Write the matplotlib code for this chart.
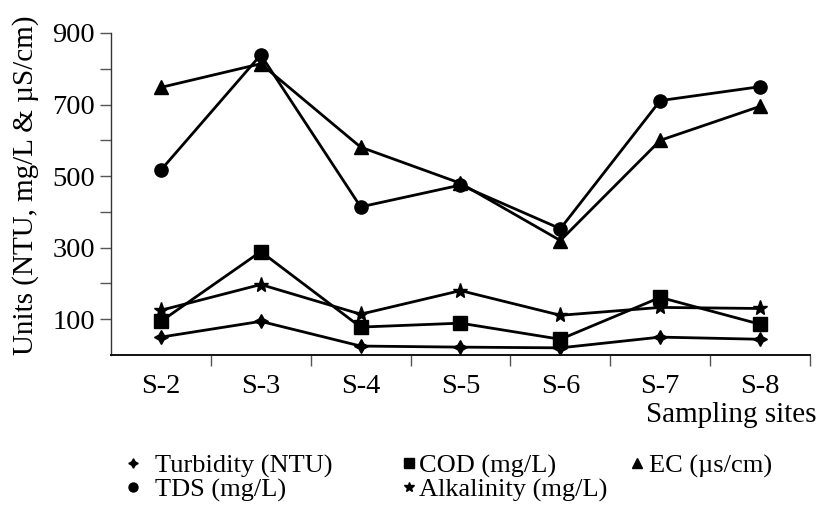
import matplotlib
matplotlib.use("Agg")
import matplotlib.pyplot as plt
from matplotlib.lines import Line2D

sites = ["S-2", "S-3", "S-4", "S-5", "S-6", "S-7", "S-8"]
turbidity = [50, 94, 25, 22, 20, 50, 44]
cod = [94, 289, 78, 89, 44, 161, 86]
ec = [748, 814, 581, 480, 320, 600, 695]
tds = [517, 839, 414, 475, 353, 711, 750]
alkalinity = [125, 197, 114, 180, 111, 133, 130]

plt.rcParams['font.family'] = ['Liberation Serif', 'DejaVu Serif']

W, H = 819, 507
fig = plt.figure(figsize=(W / 100, H / 100), dpi=100)
ax = fig.add_axes([111 / W, 1 - 355 / H, 699 / W, 322 / H])

x = list(range(len(sites)))
lw = 2.0
c = 'black'
star4 = (4, 1, 0)
series = [
    ("Turbidity (NTU)", turbidity, star4, 10),
    ("COD (mg/L)", cod, 's', 10),
    ("EC (µs/cm)", ec, '^', 10),
    ("TDS (mg/L)", tds, 'o', 9.5),
    ("Alkalinity (mg/L)", alkalinity, '*', 11),
]
handles = {}
for name, vals, m, ms in series:
    ax.plot(x, vals, color=c, lw=lw, marker=m, markersize=ms, zorder=3)
    handles[name] = Line2D([], [], color=c, lw=0, marker=m, markersize=ms * 0.68)

ax.set_xlim(-0.5, 6.5)
ax.set_ylim(0, 900)
ax.set_xticks(x)
ax.set_xticklabels(sites, fontsize=20.5)
ax.set_xticks([i + 0.5 for i in range(6)] + [6.5], minor=True)
ax.tick_params(axis='x', which='major', length=0, pad=13.5)
ax.tick_params(axis='x', which='minor', length=8, width=1, color='#555555', direction='out')
ax.set_yticks([100, 300, 500, 700, 900])
ax.set_yticks([200, 400, 600, 800], minor=True)
ax.tick_params(axis='y', which='both', length=8, width=1, color='#555555', labelsize=20.5, pad=3.5)
for s in ['top', 'right']:
    ax.spines[s].set_visible(False)
ax.spines['left'].set_color('#333333')
ax.spines['bottom'].set_color('#111111')
ax.spines['left'].set_linewidth(1.0)
ax.spines['bottom'].set_linewidth(1.4)

ax.set_ylabel("Units (NTU, mg/L & µS/cm)", fontsize=21, va='center')
ax.yaxis.set_label_coords((26 - 111) / 699, (355 - 185) / 322)
fig.text(817 / W, 1 - 415 / H, "Sampling sites", fontsize=21, ha='right', va='center')

fs = 19
em = fs * 100 / 72.0
hl = 0.5
cols = [
    (["Turbidity (NTU)", "TDS (mg/L)"], 133, 155, 478),
    (["COD (mg/L)", "Alkalinity (mg/L)"], 409, 419, 478),
    (["EC (µs/cm)"], 637, 649, 466),
]
for labels, mx, tx, cy in cols:
    left = mx - hl * em / 2
    pad = (tx - (left + hl * em)) / em
    leg = fig.legend([handles[k] for k in labels], labels, loc='center left',
                     bbox_to_anchor=(left / W, 1 - cy / H), frameon=False, fontsize=fs,
                     handlelength=hl, handletextpad=pad, labelspacing=0.0,
                     borderaxespad=0, borderpad=0)

fig.savefig("out.png", dpi=100)
